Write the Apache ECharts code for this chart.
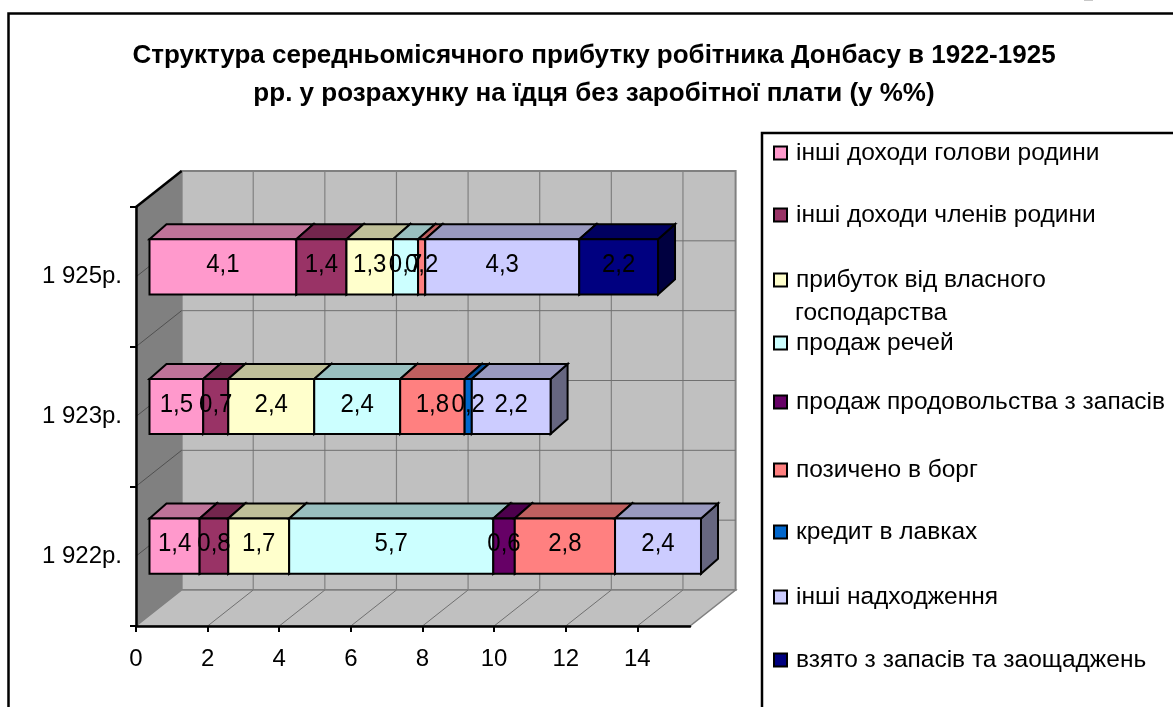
<!DOCTYPE html>
<html>
<head>
<meta charset="UTF-8">
<title>Структура прибутку</title>
<style>
    html, body { margin: 0; padding: 0; background: #fff; }
    #container { width: 1173px; height: 707px; }
</style>
</head>
<body>
<div id="container"></div>
<script src="https://cdn.jsdelivr.net/npm/echarts@6/dist/echarts.min.js"></script>
<script>
// data, rows follow years
var years = ['1 922р.', '1 923р.', '1 925р.'];
var seriesNames = [
    'інші доходи голови родини',
    'інші доходи членів родини',
    'прибуток від власного господарства',
    'продаж речей',
    'продаж продовольства з запасів',
    'позичено в борг',
    'кредит в лавках',
    'інші надходження',
    'взято з запасів та заощаджень'
];
var otherHead = [1.4, 1.5, 4.1];
var otherFamily = [0.8, 0.7, 1.4];
var ownFarm = [1.7, 2.4, 1.3];
var soldGoods = [5.7, 2.4, 0.7];
var soldFood = [0.6, null, null];
var borrowed = [2.8, 1.8, 0.2];
var shopCredit = [null, 0.2, null];
var otherIncome = [2.4, 2.2, 4.3];
var fromSavings = [null, null, 2.2];
var seriesValues = [otherHead, otherFamily, ownFarm, soldGoods, soldFood, borrowed, shopCredit, otherIncome, fromSavings];
var xTicks = [0, 2, 4, 6, 8, 10, 12, 14];
var xMax = 15.47;

var seriesColors = ['#FF99CC', '#993366', '#FFFFCC', '#CCFFFF', '#660066', '#FF8080', '#0066CC', '#CCCCFF', '#000080'];
var legendRows = [153, 215, 280, 343, 402, 470, 532, 597, 660];

var FONT = '"Liberation Sans", Arial, sans-serif';
// fake 3d depth, px
var WALL_DX = 45.6, WALL_DY = 36;
var BAR_OFF_X = 13.5, BAR_OFF_Y = 10;
var BAR_DX = 17, BAR_DY = 15;
var BAR_SHARE = 0.395;

function shade(hex, k) {
    var n = parseInt(hex.slice(1), 16);
    var r = Math.round((n >> 16 & 255) * k);
    var g = Math.round((n >> 8 & 255) * k);
    var b = Math.round((n & 255) * k);
    return 'rgb(' + r + ',' + g + ',' + b + ')';
}

function poly(points, fill, stroke, width, z2) {
    return {
        type: 'polygon',
        z2: z2 || 0,
        shape: { points: points },
        style: { fill: fill, stroke: stroke, lineWidth: width, lineJoin: 'miter' }
    };
}

function line(a, b, color, width, z2) {
    return {
        type: 'line',
        z2: z2 || 0,
        shape: { x1: a[0], y1: a[1], x2: b[0], y2: b[1] },
        style: { stroke: color, lineWidth: width }
    };
}

// back wall, side wall, floor and their grid
function renderWalls(params, api) {
    var left = api.coord([0, 0])[0];
    var right = api.coord([xMax, 0])[0];
    var band = api.size([0, 1])[1];
    var bottom = api.coord([0, 0])[1] + band / 2;
    var top = bottom - band * years.length;
    var c = [];
    c.push(poly([[left + WALL_DX, top - WALL_DY], [right + WALL_DX, top - WALL_DY], [right + WALL_DX, bottom - WALL_DY], [left + WALL_DX, bottom - WALL_DY]], '#C0C0C0', '#808080', 2));
    c.push(poly([[left, top], [left + WALL_DX, top - WALL_DY], [left + WALL_DX, bottom - WALL_DY], [left, bottom]], '#808080', '#808080', 1));
    c.push(poly([[left, bottom], [right, bottom], [right + WALL_DX, bottom - WALL_DY], [left + WALL_DX, bottom - WALL_DY]], '#C0C0C0', '#808080', 1.5));
    xTicks.forEach(function (t) {
        if (t === 0) return;
        var x = api.coord([t, 0])[0];
        c.push(line([x + WALL_DX, top - WALL_DY], [x + WALL_DX, bottom - WALL_DY], '#808080', 1.2, 1));
        c.push(line([x, bottom], [x + WALL_DX, bottom - WALL_DY], '#707070', 1, 1));
    });
    // lines every half band
    for (var i = 1; i < years.length * 2; i++) {
        var y = bottom - i * band / 2;
        c.push(line([left + WALL_DX, y - WALL_DY], [right + WALL_DX, y - WALL_DY], '#707070', 1, 1));
        c.push(line([left, y], [left + WALL_DX, y - WALL_DY], '#505050', 1, 1));
    }
    c.push(line([left, top], [left + WALL_DX, top - WALL_DY], '#000', 2.5, 2));
    return { type: 'group', children: c };
}

function renderSegment(params, api) {
    var from = api.coord([api.value(0), api.value(2)]);
    var to = api.coord([api.value(1), api.value(2)]);
    var h = api.size([0, 1])[1] * BAR_SHARE;
    var x0 = from[0] + BAR_OFF_X, x1 = to[0] + BAR_OFF_X;
    var y0 = from[1] - BAR_OFF_Y - h / 2, y1 = y0 + h;
    var color = seriesColors[params.seriesIndex - 1];
    var label = String(+(api.value(1) - api.value(0)).toFixed(1)).replace('.', ',');
    return {
        type: 'group',
        children: [
            poly([[x1, y0], [x1 + BAR_DX, y0 - BAR_DY], [x1 + BAR_DX, y1 - BAR_DY], [x1, y1]], shade(color, 0.5), '#000', 2),
            poly([[x0, y0], [x0 + BAR_DX, y0 - BAR_DY], [x1 + BAR_DX, y0 - BAR_DY], [x1, y0]], shade(color, 0.75), '#000', 2),
            poly([[x0, y0], [x1, y0], [x1, y1], [x0, y1]], color, '#000', 2),
            {
                type: 'text',
                z2: 100,
                x: (x0 + x1) / 2,
                y: (y0 + y1) / 2 - 2,
                scaleY: 1.1,
                style: {
                    x: 0, y: 0,
                    text: label,
                    fill: '#000',
                    font: '24px ' + FONT,
                    align: 'center',
                    verticalAlign: 'middle'
                }
            }
        ]
    };
}

// running totals give each segment its start and end
var running = years.map(function () { return 0; });
var barSeries = seriesNames.map(function (name, s) {
    var rows = [];
    seriesValues[s].forEach(function (v, i) {
        if (v == null) return;
        rows.push([running[i], running[i] + v, i]);
        running[i] += v;
    });
    return {
        type: 'custom',
        name: name,
        z: 4,
        silent: true,
        itemStyle: { color: seriesColors[s] },
        encode: { x: [0, 1], y: 2 },
        renderItem: renderSegment,
        data: rows
    };
});

var legends = seriesNames.map(function (name, s) {
    return {
        orient: 'vertical',
        left: 773,
        top: legendRows[s] - 14,
        padding: 0,
        itemWidth: 13,
        itemHeight: 13,
        selectedMode: false,
        icon: 'rect',
        itemStyle: { borderColor: '#000', borderWidth: 2 },
        textStyle: { fontFamily: FONT, fontSize: 24.5, color: '#000', lineHeight: 28, padding: [0, 0, 0, 4] },
        formatter: function (n) { return n.replace(' господарства', ''); },
        data: [name]
    };
});

var myChart = echarts.init(document.getElementById('container'), null, { renderer: 'canvas' });
myChart.setOption({
    animation: false,
    backgroundColor: '#fff',
    title: {
        text: 'Структура середньомісячного прибутку робітника Донбасу в 1922-1925\nрр. у розрахунку на їдця без заробітної плати (у %%)',
        left: 594,
        top: 37,
        textAlign: 'center',
        padding: 0,
        textStyle: { fontFamily: FONT, fontSize: 26, fontWeight: 'bold', color: '#000', lineHeight: 38 }
    },
    legend: legends,
    grid: { left: 136, right: 483, top: 207, bottom: 81 },
    xAxis: {
        type: 'value',
        min: 0,
        max: xMax,
        interval: 2,
        z: 3,
        splitLine: { show: false },
        axisLine: { show: true, lineStyle: { color: '#000', width: 2.5 } },
        axisTick: { show: true, length: 6, customValues: xTicks, lineStyle: { color: '#000', width: 2 } },
        axisLabel: { color: '#000', fontFamily: FONT, fontSize: 24, margin: 21, customValues: xTicks }
    },
    yAxis: {
        type: 'category',
        data: years,
        z: 3,
        axisLine: { show: true, lineStyle: { color: '#000', width: 2.5 } },
        axisTick: { show: true, length: 6, lineStyle: { color: '#000', width: 2 } },
        axisLabel: { color: '#000', fontFamily: FONT, fontSize: 24, margin: 14, padding: [6, 0, 0, 0] }
    },
    graphic: [
        { type: 'rect', z: 0, shape: { x: 1084, y: 0, width: 9, height: 1 }, style: { fill: '#c8c8c8' } },
        { type: 'rect', z: 0, shape: { x: 8.5, y: 13.5, width: 1300, height: 900 }, style: { fill: '#fff', stroke: '#000', lineWidth: 2.5 } },
        { type: 'rect', z: 0, shape: { x: 762, y: 133, width: 600, height: 700 }, style: { fill: '#fff', stroke: '#000', lineWidth: 2.5 } },
        { type: 'text', z: 5, style: { x: 795, y: 313, text: 'господарства', fill: '#000', font: '24.5px ' + FONT, align: 'left', verticalAlign: 'middle' } }
    ],
    series: [{
        type: 'custom',
        silent: true,
        z: 1,
        renderItem: renderWalls,
        encode: { x: 0, y: 1 },
        data: [[0, 0]]
    }].concat(barSeries)
});
</script>
</body>
</html>
